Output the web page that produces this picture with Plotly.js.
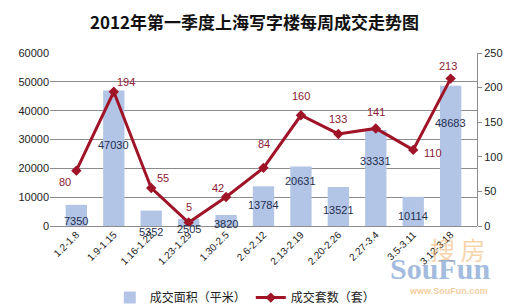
<!DOCTYPE html>
<html><head><meta charset="utf-8">
<script src="https://cdn.plot.ly/plotly-3.0.1.min.js"></script>
<style>html,body{margin:0;padding:0;background:#fff;}#chart{width:509px;height:305px;}</style>
</head><body><div id="chart"></div>
<script>
const categories = ["1.2-1.8","1.9-1.15","1.16-1.22","1.23-1.29","1.30-2.5","2.6-2.12","2.13-2.19","2.20-2.26","2.27-3.4","3.5-3.11","3.12-3.18"];
const areaValues = [7350,47030,5352,2505,3820,13784,20631,13521,33331,10114,48683];
const countValues = [80,194,55,5,42,84,160,133,141,110,213];

// label offsets (style only, px)
const areaLabelShift = [-8,-47,-13,-2,-1,-11,-6,-15,-23,-11,-29];
const countLabelDX = [-11,12,12,0,-8,0,0,0,0,20,-3];
const countLabelDY = [-11,10,10,16,9,24,19,15,16,-3,13];

const font = "Arial, 'Noto Sans CJK SC', sans-serif";
const annotations = [];
categories.forEach((c,i)=>{
  annotations.push({x:c, y:areaValues[i], xref:'x', yref:'y', text:String(areaValues[i]), showarrow:false,
    yshift:areaLabelShift[i], yanchor:'top', font:{size:11, color:'#1f2f4f', family:font}});
  annotations.push({x:c, y:countValues[i], xref:'x', yref:'y2', text:String(countValues[i]), showarrow:false,
    xshift:countLabelDX[i], yshift:countLabelDY[i], yanchor:'middle', font:{size:11, color:'#8b2035', family:font}});
});
// watermark
annotations.push({xref:'paper', yref:'paper', x:1.025, y:-0.135, text:'搜 房', showarrow:false, xanchor:'right', yanchor:'middle',
  font:{size:25, color:'rgba(240,170,90,0.5)', family:"'Noto Sans CJK SC', sans-serif"}});
annotations.push({xref:'paper', yref:'paper', x:1.035, y:-0.245, text:'<b>SouFun</b>', showarrow:false, xanchor:'right', yanchor:'middle',
  font:{size:30, color:'rgba(70,120,190,0.5)', family:"'Liberation Serif', serif"}});
annotations.push({xref:'paper', yref:'paper', x:1.03, y:-0.375, text:'<b>www.SouFun.com</b>', showarrow:false, xanchor:'right', yanchor:'middle',
  font:{size:9, color:'rgba(240,170,90,0.6)', family:font}});

const data = [
  {type:'bar', x:categories, y:areaValues, name:'成交面积（平米）', yaxis:'y',
   marker:{color:'#b3c5e6', line:{width:0}}, hoverinfo:'x+y'},
  {type:'scatter', mode:'lines+markers', x:categories, y:countValues, name:'成交套数（套）', yaxis:'y2',
   line:{color:'#a01428', width:3}, marker:{symbol:'diamond', size:8, color:'#a01428'}}
];
const layout = {
  width:509, height:305,
  margin:{l:50, r:32, t:53, b:79, autoexpand:false},
  paper_bgcolor:'#fff', plot_bgcolor:'#fff',
  title:{text:'<b>2012年第一季度上海写字楼每周成交走势图</b>', x:0.5, xanchor:'center', y:0.925, yanchor:'middle',
    font:{size:17, color:'#111', family:"'Noto Sans CJK SC', sans-serif"}},
  font:{family:font, size:11, color:'#222'},
  bargap:0.43,
  showlegend:true,
  legend:{orientation:'h', x:0.14, y:-0.33, xanchor:'left', yanchor:'top', font:{size:12, family:"'Noto Sans CJK SC', sans-serif", color:'#222'}, itemwidth:30, tracegroupgap:0},
  xaxis:{tickangle:-45, tickfont:{size:10}, showgrid:false, showline:false, ticks:'', automargin:false},
  yaxis:{range:[0,60000], dtick:10000, tickformat:'d', gridcolor:'#8c8c8c', gridwidth:1, zeroline:true, zerolinecolor:'#8c8c8c',
    showline:false, tickfont:{size:11}, ticks:'', automargin:false},
  yaxis2:{range:[0,250], dtick:50, overlaying:'y', side:'right', showgrid:false, zeroline:false,
    showline:true, linecolor:'#8c8c8c', ticks:'outside', ticklen:4, tickcolor:'#8c8c8c', tickfont:{size:11}, automargin:false},
  annotations:annotations
};
Plotly.newPlot('chart', data, layout, {displayModeBar:false, staticPlot:true});
</script></body></html>
